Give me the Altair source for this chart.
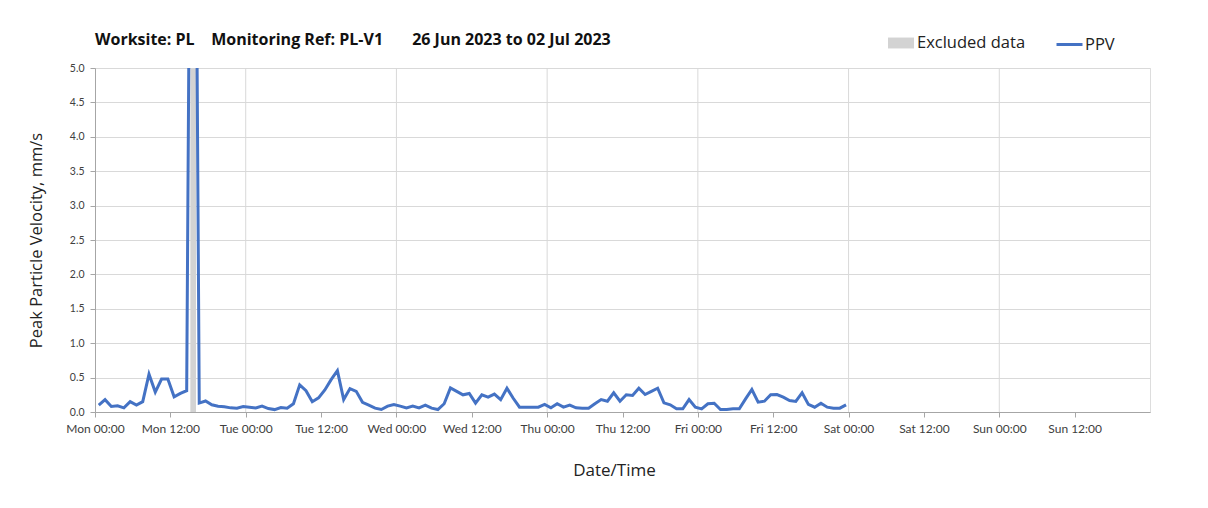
import altair as alt
import pandas as pd

# ---- data ----
start_time = "2023-06-26 00:36"
ppv = [
    0.10, 0.18, 0.08, 0.09, 0.06, 0.15, 0.10, 0.15, 0.55, 0.29,
    0.48, 0.48, 0.22, 0.27, 0.31, 14.5, 0.13, 0.16, 0.105, 0.085,
    0.075, 0.06, 0.055, 0.08, 0.07, 0.06, 0.085, 0.05, 0.035, 0.065,
    0.055, 0.12, 0.395, 0.31, 0.15, 0.205, 0.32, 0.47, 0.60, 0.18,
    0.34, 0.30, 0.14, 0.10, 0.056, 0.036, 0.085, 0.11, 0.085, 0.06,
    0.085, 0.06, 0.10, 0.056, 0.036, 0.12, 0.35, 0.30, 0.25, 0.27,
    0.13, 0.25, 0.215, 0.26, 0.18, 0.345, 0.20, 0.07, 0.07, 0.07,
    0.07, 0.11, 0.06, 0.12, 0.07, 0.10, 0.06, 0.056, 0.056, 0.12,
    0.18, 0.157, 0.28, 0.157, 0.25, 0.24, 0.345, 0.254, 0.30, 0.345,
    0.133, 0.104, 0.046, 0.046, 0.18, 0.07, 0.046, 0.12, 0.128, 0.036,
    0.036, 0.046, 0.046, 0.19, 0.327, 0.143, 0.157, 0.25, 0.254, 0.215,
    0.167, 0.153, 0.28, 0.11, 0.07, 0.128, 0.07, 0.056, 0.056, 0.104,
]
excluded_start = ["2023-06-26T15:11:00"]
excluded_end = ["2023-06-26T16:05:00"]
excluded_label = ["Excluded data"]
series_name = "PPV"
# (month, day) of the x-axis range; July is month 7
x_start = (6, 26)
x_end = (7, 3)
tick_days = [(6, 26), (6, 27), (6, 28), (6, 29), (6, 30), (7, 1), (7, 2)]
tick_hours = [0, 12]
day_lines = ["2023-06-27T00:00:00", "2023-06-28T00:00:00", "2023-06-29T00:00:00",
             "2023-06-30T00:00:00", "2023-07-01T00:00:00", "2023-07-02T00:00:00"]
y_ticks = [0.0, 0.5, 1.0, 1.5, 2.0, 2.5, 3.0, 3.5, 4.0, 4.5, 5.0]
title_text = ("Worksite: PL" + "\u00a0" * 4 + "Monitoring Ref: PL-V1"
              + "\u00a0" * 7 + "26 Jun 2023 to 02 Jul 2023")

times = pd.date_range(start_time, periods=len(ppv), freq="h").strftime("%Y-%m-%dT%H:%M:%S")
df = pd.DataFrame({"time": list(times), "ppv": ppv, "series": series_name})
band = pd.DataFrame({"start": excluded_start, "end": excluded_end, "label": excluded_label})
days = pd.DataFrame({"day": day_lines})

FONT = "Open Sans"
LBL_FONT = "Lato"
GRID = "#d9d9d9"
AXIS = "#a6a6a6"

x_scale = alt.Scale(domain=[
    alt.DateTime(year=2023, month=x_start[0], date=x_start[1], hours=0),
    alt.DateTime(year=2023, month=x_end[0], date=x_end[1], hours=0),
])
x_tick_values = [alt.DateTime(year=2023, month=m, date=d, hours=h)
                 for (m, d) in tick_days for h in tick_hours]
x_axis = alt.Axis(
    title="Date/Time",
    format="%a %H:%M",
    values=x_tick_values,
    grid=False,
    labelFont=LBL_FONT, labelFontSize=12, labelColor="#404040", labelPadding=6,
    titleFont=FONT, titleFontSize=17, titleFontWeight="normal", titleColor="#222222",
    titlePadding=28, titleX=519, titleAlign="center",
    tickSize=5, tickColor=AXIS, domainColor=AXIS,
    labelOverlap=False, labelFlush=False,
)

rules = alt.Chart(days).mark_rule(color=GRID, strokeWidth=1).encode(
    x=alt.X("day:T", scale=x_scale, axis=x_axis),
)

rect = alt.Chart(band).mark_rect(opacity=1).encode(
    x=alt.X("start:T", scale=x_scale, axis=x_axis),
    x2="end:T",
    fill=alt.Fill(
        "label:N",
        scale=alt.Scale(domain=excluded_label, range=["#d3d3d3"]),
        legend=alt.Legend(
            title=None, orient="none", legendX=793, legendY=-38,
            symbolType="M-1,-0.42H1V0.42H-1Z", symbolSize=676, symbolStrokeWidth=0,
            symbolOpacity=1,
            labelFont=FONT, labelFontSize=16.5, labelColor="#222222", labelOffset=3,
        ),
    ),
)

line = alt.Chart(df).mark_line(clip=True, strokeWidth=3).encode(
    x=alt.X("time:T", scale=x_scale, axis=x_axis),
    y=alt.Y(
        "ppv:Q",
        scale=alt.Scale(domain=[0, 5], nice=False),
        axis=alt.Axis(
            title="Peak Particle Velocity, mm/s",
            values=y_ticks, format=".1f",
            gridColor=GRID,
            labelFont=LBL_FONT, labelFontSize=10.5, labelColor="#404040", labelPadding=6,
            titleFont=FONT, titleFontSize=16.5, titleFontWeight="normal", titleColor="#222222",
            titlePadding=25,
            tickSize=5, tickColor=AXIS, domainColor=AXIS,
        ),
    ),
    stroke=alt.Stroke(
        "series:N",
        scale=alt.Scale(domain=[series_name], range=["#4472c4"]),
        legend=alt.Legend(
            title=None, orient="none", legendX=960, legendY=-38,
            symbolType="stroke", symbolSize=676, symbolStrokeWidth=3,
            labelFont=FONT, labelFontSize=16.5, labelColor="#222222", labelOffset=1,
        ),
    ),
)

chart = alt.layer(rules, rect, line).properties(
    width=1055,
    height=344,
    autosize=alt.AutoSizeParams(type="none"),
    padding={"left": 87, "top": 60, "right": 50, "bottom": 88},
    title=alt.TitleParams(
        text=title_text, anchor="start", frame="group",
        font=FONT, fontSize=16, fontWeight="bold", color="#111111", offset=22, dy=40,
    ),
).configure_view(stroke="#bfbfbf").configure(background="white")

chart.save("out.html", embed_options={"renderer": "svg", "actions": False})
